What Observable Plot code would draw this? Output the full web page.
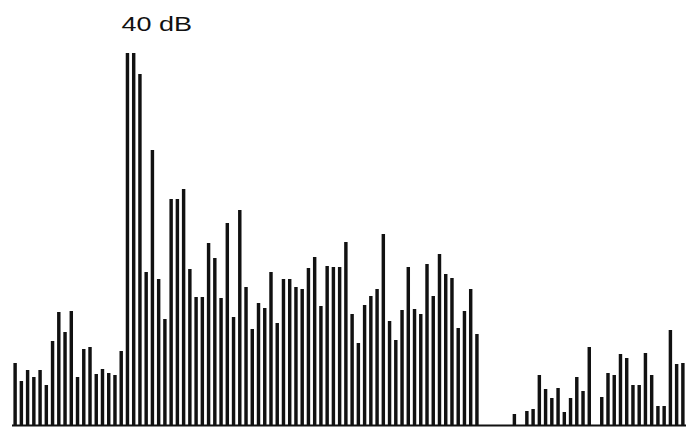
<!DOCTYPE html>
<html>
<head>
<meta charset="utf-8">
<script src="https://cdn.jsdelivr.net/npm/d3@7"></script>
<script src="https://cdn.jsdelivr.net/npm/@observablehq/plot@0.6"></script>
<style>
  html, body { margin: 0; padding: 0; background: #fff; }
</style>
</head>
<body>
<div id="chart"></div>
<script>
// Bin heights (arbitrary units), one per bin from left to right
const levels = [
  62, 44, 55, 48, 55, 40, 84, 113, 93, 114,
  48, 76, 78, 51, 56, 52, 50, 74, 372, 372,
  351, 153, 275, 146, 106, 226, 226, 236, 156, 128,
  128, 182, 167, 127, 202, 108, 215, 138, 96, 122,
  117, 153, 102, 146, 146, 138, 136, 157, 168, 119,
  159, 158, 158, 183, 111, 82, 120, 129, 136, 191,
  104, 85, 115, 158, 116, 111, 161, 129, 171, 151,
  147, 97, 114, 136, 91, 0, 0, 0, 0, 0,
  11, 0, 14, 16, 50, 36, 27, 37, 13, 27,
  48, 34, 78, 0, 28, 52, 50, 71, 67, 40,
  40, 72, 50, 19, 19, 95, 61, 62
];
const bins = levels.map((v, i) => ({i, v}));

// Annotation
const labels = ["40 dB"];
const labelBin = [23.1];
const labelLevel = [395];
const notes = labels.map((t, k) => ({t, x: labelBin[k], y: labelLevel[k]}));

const chart = Plot.plot({
  width: 687,
  height: 427,
  marginLeft: 12,
  marginRight: 1,
  marginTop: 25,
  marginBottom: 2,
  style: {background: "#fff"},
  x: {type: "linear", domain: [0, levels.length], axis: null},
  y: {domain: [0, 400], axis: null},
  marks: [
    Plot.ruleY([0], {stroke: "#111", strokeWidth: 2}),
    Plot.rectY(bins, {
      x1: d => d.i,
      x2: d => d.i + 1,
      y: "v",
      insetLeft: 1.4,
      insetRight: 1.4,
      fill: "#111"
    }),
    Plot.text(notes, {
      x: "x",
      y: "y",
      text: "t",
      lineAnchor: "bottom",
      textAnchor: "middle",
      fontSize: 20,
      fontFamily: "Liberation Sans, Arial, sans-serif",
      fill: "#111"
    })
  ]
});

document.getElementById("chart").appendChild(chart);
// widen the label glyphs as in the scanned source
d3.select(chart).selectAll("g[aria-label='text'] text").each(function() {
  const t = this.getAttribute("transform") || "";
  this.setAttribute("transform", t + " scale(1.35,1)");
});
</script>
</body>
</html>
